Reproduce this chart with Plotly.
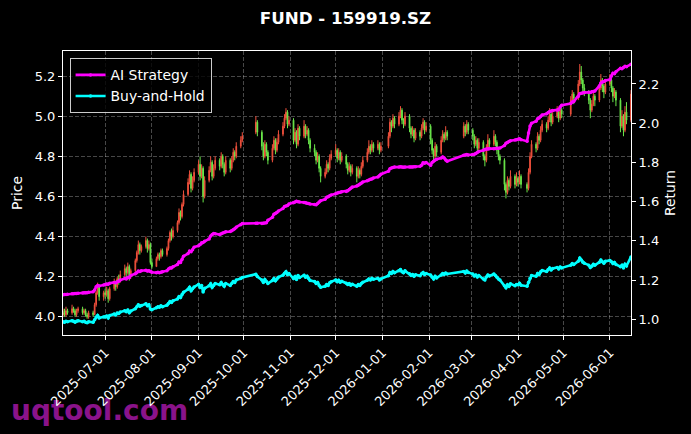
import pandas as pd
import plotly.graph_objects as go

# ---------------- data ----------------
first_day = "2025-06-03"
last_day = "2026-06-15"
holidays = ["2025-10-01", "2025-10-02", "2025-10-03", "2025-10-06", "2025-10-07", "2025-10-08",
            "2026-01-01", "2026-01-02",
            "2026-02-16", "2026-02-17", "2026-02-18", "2026-02-19", "2026-02-20", "2026-02-23",
            "2026-04-06", "2026-05-01", "2026-05-04", "2026-05-05"]

opens = [
    4.01,4.03,4.01,4.03,4.02,4.04,4.03,4.01,4.03,4.04,4.02,4.03,4.01,4.00,4.02,4.01,4.06,4.12,4.15,4.10,
    4.12,4.11,4.13,4.09,4.14,4.17,4.15,4.19,4.18,4.21,4.24,4.22,4.25,4.20,4.23,4.28,4.32,4.36,4.33,4.35,4.38,4.34,4.36,
    4.27,4.25,4.29,4.31,4.30,4.33,4.31,4.34,4.38,4.42,4.40,4.43,4.47,4.52,4.50,4.56,4.61,4.67,4.71,4.64,4.68,
    4.72,4.76,4.70,4.74,4.60,4.68,4.73,4.77,4.70,4.74,4.78,4.75,4.80,4.76,4.72,4.78,4.74,4.78,4.82,4.80,4.85,4.88,
    4.92,4.97,4.92,4.85,4.80,4.86,4.82,4.78,4.84,4.88,4.83,4.87,4.91,4.95,4.99,5.02,4.96,
    4.98,4.88,4.92,4.86,4.94,4.90,4.95,4.91,4.93,4.88,4.84,4.82,4.78,4.80,4.74,4.70,4.72,4.76,4.74,4.79,
    4.81,4.83,4.79,4.82,4.78,4.80,4.76,4.73,4.75,4.72,4.74,4.70,4.73,4.71,4.75,4.78,4.82,4.85,4.83,4.86,4.84,4.86,4.83,
    4.85,4.90,4.97,4.95,4.99,4.96,5.00,5.03,4.98,4.96,5.00,4.94,4.91,4.93,4.89,4.92,4.90,4.94,4.97,4.93,
    4.95,4.88,4.83,4.80,4.85,4.82,4.88,4.91,4.89,4.92,4.90,4.95,4.92,4.96,
    4.93,4.90,4.86,4.88,4.84,4.87,4.80,4.78,4.84,4.88,4.86,4.90,4.87,4.83,4.80,4.78,4.66,4.62,4.68,4.65,4.70,4.66,
    4.69,4.67,4.70,4.66,4.64,4.72,4.80,4.86,4.84,4.90,4.88,4.93,4.96,4.94,4.98,5.01,4.97,5.00,5.02,4.99,5.03,
    5.01,5.08,5.11,5.09,5.16,5.22,5.18,5.14,5.12,5.08,5.03,5.06,5.10,5.08,5.14,5.18,5.15,5.12,
    5.16,5.18,5.14,5.10,5.12,5.08,4.95,5.00,4.93,5.02,4.98,
]
highs = [
    4.04,4.04,4.05,4.04,4.06,4.05,4.04,4.04,4.05,4.05,4.04,4.04,4.02,4.03,4.03,4.07,4.13,4.17,4.16,4.13,
    4.14,4.15,4.14,4.15,4.19,4.18,4.20,4.21,4.23,4.26,4.25,4.27,4.26,4.24,4.29,4.33,4.38,4.37,4.36,4.40,4.39,4.38,4.37,
    4.29,4.30,4.32,4.32,4.34,4.34,4.35,4.39,4.43,4.44,4.45,4.48,4.54,4.53,4.57,4.63,4.69,4.73,4.72,4.70,4.74,
    4.78,4.80,4.76,4.75,4.70,4.75,4.80,4.78,4.76,4.80,4.79,4.82,4.81,4.77,4.80,4.79,4.80,4.84,4.83,4.87,4.90,4.92,
    5.00,4.98,4.93,4.87,4.88,4.87,4.83,4.86,4.90,4.89,4.89,4.93,4.97,5.01,5.04,5.03,5.00,
    4.99,4.94,4.93,4.96,4.95,4.98,4.96,4.95,4.94,4.89,4.86,4.83,4.82,4.81,4.75,4.74,4.78,4.77,4.81,4.83,
    4.86,4.84,4.84,4.83,4.82,4.81,4.77,4.77,4.76,4.76,4.75,4.75,4.74,4.77,4.80,4.84,4.88,4.86,4.88,4.87,4.88,4.87,4.87,
    4.92,4.99,4.98,5.01,5.00,5.02,5.05,5.04,4.99,5.02,5.01,4.95,4.95,4.94,4.94,4.93,4.96,4.99,4.98,4.97,
    4.96,4.89,4.84,4.87,4.86,4.90,4.93,4.92,4.95,4.93,4.97,4.96,4.98,4.97,
    4.94,4.91,4.90,4.89,4.89,4.88,4.81,4.86,4.91,4.89,4.93,4.91,4.88,4.84,4.81,4.79,4.67,4.70,4.69,4.73,4.71,4.72,
    4.70,4.73,4.71,4.67,4.74,4.82,4.88,4.87,4.92,4.91,4.95,4.98,4.97,5.00,5.04,5.02,5.02,5.05,5.03,5.05,5.04,
    5.10,5.13,5.12,5.18,5.26,5.25,5.19,5.16,5.13,5.09,5.08,5.12,5.11,5.16,5.21,5.19,5.16,5.18,
    5.21,5.19,5.15,5.14,5.13,5.09,5.03,5.01,5.05,5.07,5.13,
]
lows = [
    4.00,4.00,4.00,4.01,4.01,4.02,4.00,4.00,4.02,4.01,4.01,4.00,3.99,3.99,4.00,4.01,4.05,4.11,4.08,4.08,
    4.09,4.10,4.07,4.08,4.13,4.13,4.14,4.16,4.17,4.20,4.20,4.21,4.18,4.19,4.22,4.27,4.31,4.31,4.32,4.34,4.32,4.33,4.26,
    4.24,4.25,4.28,4.28,4.29,4.30,4.30,4.33,4.37,4.38,4.39,4.42,4.46,4.48,4.49,4.55,4.60,4.66,4.62,4.63,4.67,
    4.71,4.68,4.69,4.57,4.59,4.67,4.72,4.68,4.69,4.73,4.73,4.74,4.74,4.70,4.71,4.72,4.73,4.77,4.78,4.79,4.84,4.87,
    4.91,4.90,4.83,4.78,4.79,4.80,4.76,4.77,4.83,4.81,4.82,4.86,4.90,4.94,4.98,4.94,4.95,
    4.86,4.87,4.84,4.85,4.88,4.89,4.89,4.90,4.86,4.82,4.80,4.76,4.77,4.72,4.67,4.69,4.71,4.72,4.73,4.78,
    4.80,4.77,4.78,4.76,4.77,4.74,4.71,4.72,4.70,4.71,4.67,4.69,4.69,4.70,4.74,4.77,4.81,4.81,4.82,4.82,4.83,4.81,4.82,
    4.84,4.89,4.92,4.94,4.94,4.95,4.99,4.96,4.94,4.95,4.92,4.89,4.90,4.87,4.88,4.88,4.89,4.93,4.91,4.92,
    4.86,4.81,4.78,4.79,4.80,4.81,4.87,4.87,4.88,4.88,4.89,4.90,4.91,4.91,
    4.88,4.84,4.85,4.82,4.83,4.78,4.75,4.77,4.83,4.84,4.85,4.85,4.81,4.78,4.76,4.63,4.59,4.61,4.63,4.64,4.64,4.65,
    4.65,4.66,4.64,4.62,4.63,4.71,4.79,4.82,4.83,4.86,4.87,4.92,4.92,4.93,4.97,4.95,4.96,4.99,4.97,4.98,4.99,
    5.00,5.07,5.06,5.08,5.15,5.16,5.12,5.10,5.06,4.99,5.02,5.05,5.05,5.07,5.13,5.12,5.09,5.11,
    5.15,5.12,5.07,5.09,5.05,4.92,4.94,4.90,4.92,4.96,4.97,
]
closes = [
    4.02,4.01,4.03,4.02,4.04,4.03,4.01,4.03,4.04,4.02,4.03,4.01,4.00,4.02,4.01,4.06,4.12,4.15,4.10,4.12,
    4.11,4.13,4.09,4.14,4.17,4.15,4.19,4.18,4.21,4.24,4.22,4.25,4.20,4.23,4.28,4.32,4.36,4.33,4.35,4.38,4.34,4.36,4.27,
    4.25,4.29,4.31,4.30,4.33,4.31,4.34,4.38,4.42,4.40,4.43,4.47,4.52,4.50,4.56,4.61,4.67,4.71,4.64,4.68,4.72,
    4.76,4.70,4.74,4.60,4.68,4.73,4.77,4.70,4.74,4.78,4.75,4.80,4.76,4.72,4.78,4.74,4.78,4.82,4.80,4.85,4.88,4.90,
    4.97,4.92,4.85,4.80,4.86,4.82,4.78,4.84,4.88,4.83,4.87,4.91,4.95,4.99,5.02,4.96,4.98,
    4.88,4.92,4.86,4.94,4.90,4.95,4.91,4.93,4.88,4.84,4.82,4.78,4.80,4.74,4.70,4.72,4.76,4.74,4.79,4.81,
    4.83,4.79,4.82,4.78,4.80,4.76,4.73,4.75,4.72,4.74,4.70,4.73,4.71,4.75,4.78,4.82,4.85,4.83,4.86,4.84,4.86,4.83,4.85,
    4.90,4.97,4.95,4.99,4.96,5.00,5.03,4.98,4.96,5.00,4.94,4.91,4.93,4.89,4.92,4.90,4.94,4.97,4.93,4.95,
    4.88,4.83,4.80,4.85,4.82,4.88,4.91,4.89,4.92,4.90,4.95,4.92,4.96,4.93,
    4.90,4.86,4.88,4.84,4.87,4.80,4.78,4.84,4.88,4.86,4.90,4.87,4.83,4.80,4.78,4.66,4.62,4.68,4.65,4.70,4.66,4.69,
    4.67,4.70,4.66,4.64,4.72,4.80,4.86,4.84,4.90,4.88,4.93,4.96,4.94,4.98,5.01,4.97,5.00,5.02,4.99,5.03,5.01,
    5.08,5.11,5.09,5.16,5.22,5.18,5.14,5.12,5.08,5.03,5.06,5.10,5.08,5.14,5.18,5.15,5.12,5.16,
    5.18,5.14,5.10,5.12,5.08,4.95,5.00,4.93,5.02,4.98,5.11,
]
ai_strategy = [
    1.125,1.126,1.127,1.128,1.130,1.130,1.131,1.132,1.133,1.134,1.135,1.135,1.136,1.138,1.140,1.150,1.166,1.172,1.170,1.175,
    1.178,1.180,1.179,1.184,1.188,1.186,1.192,1.194,1.200,1.208,1.206,1.214,1.212,1.224,1.232,1.238,1.246,1.244,1.248,1.250,1.246,1.248,1.244,
    1.240,1.238,1.240,1.238,1.240,1.242,1.248,1.256,1.262,1.262,1.268,1.280,1.292,1.290,1.305,1.322,1.335,1.348,1.345,1.355,1.368,
    1.375,1.382,1.390,1.392,1.398,1.410,1.425,1.432,1.438,1.436,1.432,1.436,1.440,1.442,1.446,1.448,1.452,1.456,1.462,1.470,1.482,1.488,
    1.490,1.490,1.489,1.490,1.491,1.492,1.505,1.520,1.536,1.540,1.544,1.552,1.565,1.575,1.578,1.580,1.588,
    1.594,1.598,1.602,1.600,1.598,1.596,1.594,1.592,1.590,1.588,1.586,1.584,1.590,1.598,1.605,1.612,1.622,1.625,1.630,1.634,
    1.640,1.644,1.646,1.648,1.650,1.652,1.656,1.662,1.668,1.674,1.680,1.684,1.688,1.694,1.700,1.706,1.710,1.714,1.716,1.720,1.726,1.732,1.740,
    1.755,1.768,1.772,1.774,1.776,1.776,1.778,1.776,1.775,1.776,1.777,1.776,1.777,1.778,1.778,1.780,1.786,1.798,1.796,1.800,
    1.785,1.800,1.806,1.812,1.816,1.822,1.828,1.822,1.812,1.806,1.836,1.838,1.840,1.838,
    1.840,1.842,1.846,1.850,1.856,1.862,1.866,1.868,1.868,1.870,1.870,1.871,1.872,1.872,1.873,1.886,1.898,1.902,1.906,1.910,1.914,1.915,
    1.918,1.920,1.916,1.908,1.950,1.985,2.000,2.010,2.022,2.026,2.034,2.042,2.048,2.054,2.060,2.062,2.064,2.066,2.070,2.082,2.092,
    2.100,2.108,2.110,2.136,2.150,2.152,2.154,2.156,2.158,2.156,2.160,2.162,2.164,2.190,2.205,2.210,2.212,2.218,
    2.222,2.240,2.255,2.252,2.262,2.280,2.278,2.284,2.290,2.288,2.300,
]
buy_and_hold = [
    0.988,0.985,0.990,0.988,0.993,0.990,0.985,0.990,0.993,0.988,0.990,0.985,0.983,0.988,0.985,0.998,1.012,1.020,1.007,1.012,
    1.012,1.017,1.007,1.020,1.027,1.022,1.032,1.030,1.037,1.044,1.039,1.047,1.034,1.042,1.054,1.064,1.074,1.067,1.071,1.079,1.069,1.074,1.052,
    1.049,1.059,1.064,1.062,1.069,1.064,1.072,1.081,1.091,1.086,1.094,1.104,1.116,1.111,1.126,1.138,1.153,1.163,1.146,1.156,1.165,
    1.178,1.163,1.173,1.139,1.158,1.171,1.181,1.163,1.173,1.183,1.176,1.188,1.178,1.168,1.183,1.173,1.183,1.193,1.188,1.200,1.208,1.213,
    1.230,1.218,1.200,1.188,1.203,1.193,1.183,1.198,1.208,1.196,1.205,1.215,1.225,1.235,1.243,1.228,1.233,
    1.208,1.218,1.203,1.223,1.213,1.225,1.215,1.220,1.208,1.198,1.193,1.183,1.188,1.173,1.163,1.168,1.178,1.173,1.186,1.191,
    1.201,1.192,1.199,1.189,1.194,1.184,1.177,1.182,1.174,1.179,1.169,1.177,1.172,1.182,1.189,1.199,1.206,1.201,1.209,1.204,1.209,1.201,1.206,
    1.222,1.239,1.234,1.244,1.237,1.247,1.254,1.242,1.237,1.247,1.232,1.224,1.229,1.219,1.227,1.222,1.232,1.239,1.229,1.234,
    1.226,1.214,1.206,1.219,1.211,1.226,1.234,1.229,1.236,1.231,1.244,1.236,1.246,1.239,
    1.231,1.221,1.226,1.216,1.224,1.206,1.201,1.216,1.226,1.221,1.231,1.224,1.214,1.206,1.201,1.171,1.161,1.176,1.168,1.181,1.171,1.178,
    1.176,1.184,1.174,1.169,1.189,1.209,1.224,1.219,1.234,1.229,1.242,1.249,1.244,1.254,1.262,1.252,1.259,1.264,1.257,1.267,1.262,
    1.276,1.284,1.279,1.296,1.312,1.302,1.291,1.286,1.276,1.264,1.271,1.281,1.276,1.291,1.302,1.294,1.286,1.296,
    1.300,1.294,1.284,1.290,1.280,1.268,1.276,1.262,1.281,1.272,1.318,
]
tick_labels = ["2025-07-01", "2025-08-01", "2025-09-01", "2025-10-01", "2025-11-01", "2025-12-01",
               "2026-01-01", "2026-02-01", "2026-03-01", "2026-04-01", "2026-05-01", "2026-06-01"]

hol = set(pd.to_datetime(holidays))
dates = [d for d in pd.bdate_range(first_day, last_day) if d not in hol]
n = len(dates)
assert all(len(a) == n for a in (opens, highs, lows, closes, ai_strategy, buy_and_hold)), \
    (n, len(opens), len(highs), len(lows), len(closes), len(ai_strategy), len(buy_and_hold))

# ---------------- figure ----------------
FONT = "DejaVu Sans"
UP = "#f0503c"
DOWN = "#6ae84a"

fig = go.Figure()
fig.add_trace(go.Candlestick(
    x=dates, open=opens, high=highs, low=lows, close=closes,
    increasing=dict(line=dict(color=UP, width=1), fillcolor=UP),
    decreasing=dict(line=dict(color=DOWN, width=1), fillcolor=DOWN),
    showlegend=False, hoverinfo="skip", yaxis="y",
))
fig.add_trace(go.Scatter(
    x=dates, y=ai_strategy, name="AI Strategy", mode="lines+markers",
    line=dict(color="#ff00ff", width=2.6), marker=dict(size=3.5, color="#ff00ff"),
    yaxis="y2",
))
fig.add_trace(go.Scatter(
    x=dates, y=buy_and_hold, name="Buy-and-Hold", mode="lines+markers",
    line=dict(color="#00ffff", width=2.6), marker=dict(size=3.5, color="#00ffff"),
    yaxis="y2",
))

grid = dict(showgrid=True, gridcolor="rgba(255,255,255,0.28)", gridwidth=0.8, griddash="4px,2px")
axis_common = dict(color="white", ticks="outside", ticklen=4, tickcolor="white", tickwidth=1,
                   tickfont=dict(family=FONT, size=13, color="white"), zeroline=False)

fig.update_layout(
    width=691, height=434,
    margin=dict(l=63, r=60, t=51, b=99),
    paper_bgcolor="black", plot_bgcolor="black",
    font=dict(family=FONT, color="white"),
    title=dict(text="FUND - 159919.SZ", x=0.5, xref="container", xanchor="center",
               y=1 - 18 / 434, yref="container", yanchor="middle",
               font=dict(family=FONT, size=16.7, color="white", weight="bold")),
    xaxis=dict(type="date", range=[first_day, last_day], rangeslider=dict(visible=False),
               tickvals=tick_labels, ticktext=tick_labels, tickangle=-45,
               showline=True, mirror=True, linecolor="white", linewidth=1,
               **grid, **axis_common),
    yaxis=dict(range=[3.909, 5.325], tick0=4.0, dtick=0.2, tickformat=".1f",
               title=dict(text="Price", font=dict(family=FONT, size=13.9, color="white"), standoff=8),
               showline=True, mirror=True, linecolor="white", linewidth=1,
               **grid, **axis_common),
    yaxis2=dict(range=[0.920, 2.368], tick0=1.0, dtick=0.2, tickformat=".1f",
                overlaying="y", side="right", showgrid=False, showline=False,
                title=dict(text="Return", font=dict(family=FONT, size=13.9, color="white"), standoff=6),
                **axis_common),
    legend=dict(x=0.0116, y=0.974, xanchor="left", yanchor="top",
                bgcolor="rgba(0,0,0,0.8)", bordercolor="rgba(255,255,255,0.8)", borderwidth=1,
                font=dict(family=FONT, size=13.9, color="white"), itemwidth=30),
    hovermode=False,
    shapes=[dict(type="rect", xref="paper", yref="paper",
                 x0=(5 - 63) / 568, x1=(200 - 63) / 568,
                 y0=(335 - 424) / 284, y1=(335 - 392) / 284,
                 line=dict(width=0), fillcolor="rgba(0,0,0,0)", layer="below",
                 label=dict(text="uqtool.com", textposition="middle left",
                            font=dict(family=FONT, size=28, color="#8a138a", weight="bold")))],
)

fig.write_html("out.html")
